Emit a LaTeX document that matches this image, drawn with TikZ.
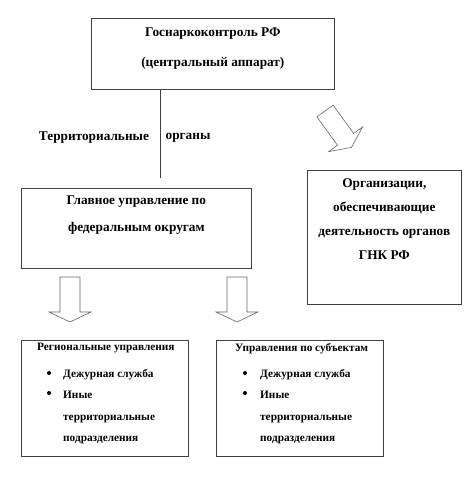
\documentclass[tikz,border=0pt]{standalone}
\usepackage{fontspec}
\setmainfont{Liberation Serif}
\usetikzlibrary{positioning}

\tikzset{
  box/.style={draw=black!75, line width=0.7pt, anchor=north west, inner sep=0pt},
  boxtext/.style={font=\fontsize{13.3}{#1}\selectfont\bfseries, align=center, inner sep=0pt, anchor=north},
  listtext/.style={font=\fontsize{11.3}{21.5}\selectfont\bfseries, align=left, inner sep=0pt, anchor=north west},
  arrowline/.style={draw=black!60, line width=0.6pt, fill=white, line join=miter},
  blockarrow/.pic={
    \draw[arrowline] (-10,0) -- (10,0) -- (10,35) -- (21,35) -- (0,45)
      -- (-21,35) -- (-10,35) -- cycle;
  }
}

\begin{document}
\begin{tikzpicture}[x=1pt, y=-1pt]
  \useasboundingbox (0,0) rectangle (474,483);

  % Boxes
  \node[box, minimum width=243pt, minimum height=71pt] (gnk) at (91,18) {};
  \node[box, minimum width=230pt, minimum height=80pt] (gu) at (21,188) {};
  \node[box, minimum width=154pt, minimum height=134pt] (org) at (307,170) {};
  \node[box, minimum width=167pt, minimum height=116pt] (reg) at (21,340) {};
  \node[box, minimum width=167pt, minimum height=116pt] (subj) at (216,340) {};

  % Box texts
  \node[boxtext=30, below=9.5pt of gnk.north] (gnktext)
    {Госнаркоконтроль РФ\\(центральный аппарат)};
  \node[boxtext=27, below=7.5pt of gu.north] (gutext)
    {Главное управление по\\федеральным округам};
  \node[boxtext=24, below=8.5pt of org.north] (orgtext)
    {Организации,\\обеспечивающие\\деятельность органов\\ГНК РФ};

  % Territorial link
  \coordinate (linkend) at (160,178);
  \draw[black!75, line width=0.7pt] (linkend |- gnk.south) -- (linkend);
  \node[boxtext=14, anchor=center] (terr) at (94,138) {Территориальные};
  \node[boxtext=14, anchor=center] (org2) at (188,138) {органы};

  % Block arrows
  \pic[rotate=36] at (325,111) {blockarrow};
  \pic at (70,277) {blockarrow};
  \pic at (237,277) {blockarrow};

  % Lists
  \node[listtext] (regtitle) at (37,343) {Региональные управления};
  \node[listtext] (reglist) at (63,369)
    {Дежурная служба\\Иные\\территориальные\\подразделения};
  \node[listtext] (subjtitle) at (235,343) {Управления по субъектам};
  \node[listtext] (subjlist) at (260,369)
    {Дежурная служба\\Иные\\территориальные\\подразделения};

  % Bullets
  \fill (49,373) circle (2pt);
  \fill (49,393) circle (2pt);
  \fill (245,373) circle (2pt);
  \fill (245,393) circle (2pt);
\end{tikzpicture}
\end{document}
